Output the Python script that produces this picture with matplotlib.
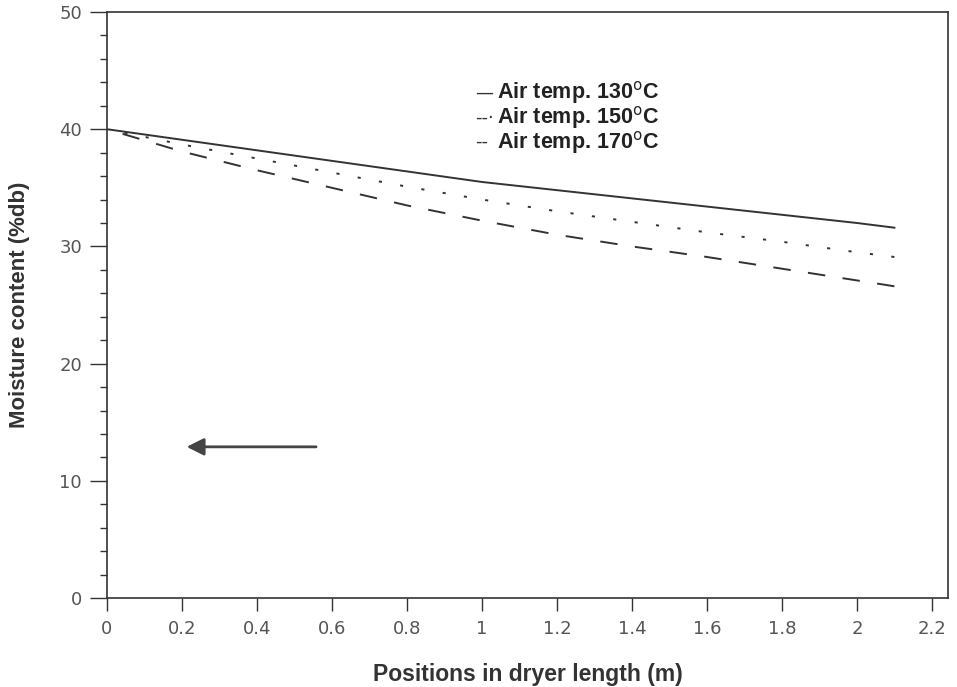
import matplotlib.pyplot as plt
import numpy as np

# positions along the dryer (m)
position = [0, 0.2, 0.4, 0.6, 0.8, 1.0, 1.2, 1.4, 1.6, 1.8, 2.0, 2.1]

# moisture content (%db)
mc_130 = [40, 39.1, 38.2, 37.3, 36.4, 35.5, 34.8, 34.1, 33.4, 32.7, 32.0, 31.6]
mc_150 = [40, 38.7, 37.5, 36.3, 35.1, 34.0, 33.0, 32.1, 31.2, 30.4, 29.5, 29.1]
mc_170 = [40, 38.1, 36.5, 35.0, 33.5, 32.2, 31.0, 30.0, 29.1, 28.1, 27.1, 26.6]

legend_labels = ['Air temp. 130$^{\\mathrm{o}}$C',
                 'Air temp. 150$^{\\mathrm{o}}$C',
                 'Air temp. 170$^{\\mathrm{o}}$C']
legend_marks = ['\u2014', '--\u00b7', '--']

xticks = [0, 0.2, 0.4, 0.6, 0.8, 1, 1.2, 1.4, 1.6, 1.8, 2, 2.2]
xticklabels = ['0', '0.2', '0.4', '0.6', '0.8', '1', '1.2', '1.4', '1.6', '1.8', '2', '2.2']

ink = '#333333'

fig = plt.figure(figsize=(9.57, 6.87), dpi=100)
ax = fig.add_axes([0.1118, 0.1295, 0.8788, 0.853])

# broken lines drawn from the far end so a dash sits at x = 2.1, as in the scan
ax.plot(position, mc_130, color=ink, lw=1.4)
ax.plot(position[::-1], mc_150[::-1], color=ink, lw=1.4,
        linestyle=(0, (1.6, 9.5)))
ax.plot(position[::-1], mc_170[::-1], color=ink, lw=1.4,
        linestyle=(0, (9, 9)))

ax.set_xlim(0, 2.243)
ax.set_ylim(0, 50)
ax.set_xticks(xticks)
ax.set_xticklabels(xticklabels)
ax.set_yticks([0, 10, 20, 30, 40, 50])
ax.set_yticks(np.arange(0, 50, 2), minor=True)

ax.tick_params(axis='x', direction='out', length=9, width=1, pad=7,
               labelsize=13, labelcolor='#555555', color=ink)
ax.tick_params(axis='y', which='major', direction='out', length=12, width=1,
               pad=6, labelsize=13, labelcolor='#555555', color=ink)
ax.tick_params(axis='y', which='minor', direction='out', length=5, width=1,
               color=ink)
for lab in ax.get_xticklabels() + ax.get_yticklabels():
    lab.set_family('DejaVu Sans')

for sp in ax.spines.values():
    sp.set_color(ink)
    sp.set_linewidth(1.2)

ax.set_xlabel('Positions in dryer length (m)', fontsize=16.5, fontweight='bold',
              color='#333333', family='Liberation Sans', labelpad=18)
ax.set_ylabel('Moisture content (%db)', fontsize=16, fontweight='bold',
              color='#333333', family='Liberation Sans', labelpad=21)

# legend written as text, as in the original figure
for i, (mark, lab) in enumerate(zip(legend_marks, legend_labels)):
    y = 0.862 - i * 0.042
    ax.text(0.4376, y, mark, transform=ax.transAxes, fontsize=13,
            color=ink, va='center', ha='left', family='DejaVu Sans')
    ax.text(0.4637, y, lab, transform=ax.transAxes, fontsize=15.5,
            fontweight='bold', color='#222222', va='center', ha='left',
            family='Liberation Sans')

ax.annotate('', xy=(0.205, 12.9), xytext=(0.565, 12.9),
            arrowprops=dict(arrowstyle='-|>', color='#444444', lw=2,
                            mutation_scale=26))

fig.savefig('out.png', dpi=100)
